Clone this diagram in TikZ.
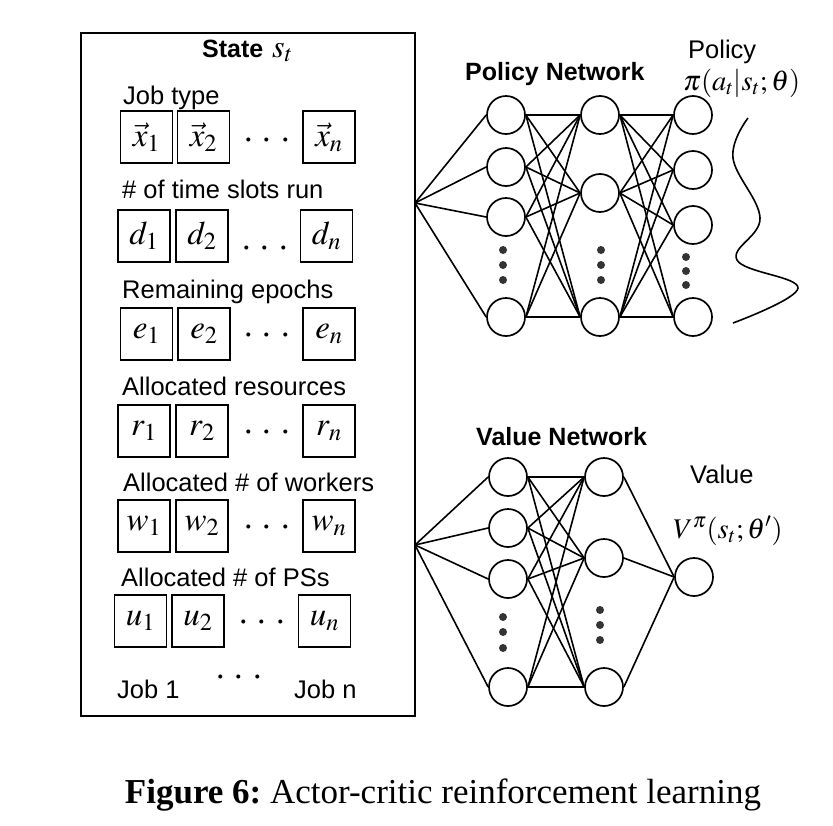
\documentclass[tikz,border=0pt]{standalone}
\usepackage{mathptmx}
\usepackage[no-math]{fontspec}
\setmainfont{Liberation Serif}
\setsansfont{Liberation Sans}
\begin{document}
\begin{tikzpicture}[x=1pt,y=-1pt,
  lbl/.style={font=\sffamily\fontsize{25.5}{30}\selectfont, anchor=base west, inner sep=0},
  ttl/.style={font=\sffamily\bfseries\fontsize{25}{30}\selectfont, anchor=base west, inner sep=0},
  mth/.style={font=\fontsize{28.5}{32}\selectfont, anchor=base west, inner sep=0},
  cell/.style={draw, line width=1.7pt, minimum width=52pt, minimum height=52pt, inner sep=0, font=\fontsize{33}{36}\selectfont},
  dotsrow/.style={font=\fontsize{38}{40}\selectfont, anchor=base, inner sep=0},
  neuron/.style={circle, draw, line width=1.7pt, minimum size=38pt, inner sep=0},
  edge/.style={line width=1.6pt},
  ndot/.style={circle, fill=black!80, minimum size=8pt, inner sep=0},
  statebox/.style={draw, line width=1.9pt, minimum width=334pt, minimum height=683pt, inner sep=0}
]
\useasboundingbox (0,0) rectangle (833,825);
\newcommand{\mydots}{$\cdot$\hspace{8pt}$\cdot$\hspace{8pt}$\cdot$}

% State box
\node[statebox] (state) at (248,374.5) {};
\node[ttl] (stt) at (202,57) {State};
\node[mth, font=\fontsize{32}{36}\selectfont] (sst) at (272,57) {$s_t$};

% Row 1
\node[lbl] (l1) at (123,104) {Job type};
\node[cell] (a1) at (146.5,137) {$\vec{x}_1$};
\node[cell] (a2) at (203.5,137) {$\vec{x}_2$};
\node[dotsrow] (ad) at (267,149) {\mydots};
\node[cell] (an) at (329,137) {$\vec{x}_n$};
% Row 2
\node[lbl] (l2) at (122,198) {\# of time slots run};
\node[cell] (b1) at (144,236) {$d_1$};
\node[cell] (b2) at (202,236) {$d_2$};
\node[dotsrow] (bd) at (265,257) {\mydots};
\node[cell] (bn) at (326.5,236) {$d_n$};
% Row 3
\node[lbl] (l3) at (122,298) {Remaining epochs};
\node[cell] (c1) at (146.5,334) {$e_1$};
\node[cell] (c2) at (204,334) {$e_2$};
\node[dotsrow] (cd) at (267,344) {\mydots};
\node[cell] (cn) at (329,334) {$e_n$};
% Row 4
\node[lbl] (l4) at (122,395) {Allocated resources};
\node[cell] (d1) at (144,431) {$r_1$};
\node[cell] (d2) at (202,431) {$r_2$};
\node[dotsrow] (dd) at (267,441) {\mydots};
\node[cell] (dn) at (329,431) {$r_n$};
% Row 5
\node[lbl] (l5) at (123,491) {Allocated \# of workers};
\node[cell] (e1) at (144,526) {$w_1$};
\node[cell] (e2) at (202,526) {$w_2$};
\node[dotsrow] (ed) at (267,536) {\mydots};
\node[cell] (en) at (329,526) {$w_n$};
% Row 6
\node[lbl] (l6) at (121,586) {Allocated \# of PSs};
\node[cell] (f1) at (140.5,621) {$u_1$};
\node[cell] (f2) at (198,621) {$u_2$};
\node[dotsrow] (fd) at (262,631) {\mydots};
\node[cell] (fn) at (324.5,621) {$u_n$};
% bottom
\node[dotsrow] (gd) at (239,686) {\mydots};
\node[lbl] (j1) at (117,698) {Job 1};
\node[lbl] (jn) at (294,698) {Job n};

% Policy network
\node[ttl] (pnt) at (465,80) {Policy Network};
\node[lbl] (pol) at (688,58) {Policy};
\node[mth] (pif) at (683,90) {$\pi(a_t|s_t;\theta)$};
\coordinate (pin) at (415,203);
\node[neuron] (p11) at (506,115) {};
\node[neuron] (p12) at (506,167) {};
\node[neuron] (p13) at (506,217) {};
\node[neuron] (p14) at (506,317) {};
\node[neuron] (p21) at (600,115) {};
\node[neuron] (p22) at (600,193) {};
\node[neuron] (p23) at (600,317) {};
\node[neuron] (p31) at (693,115) {};
\node[neuron] (p32) at (693,170) {};
\node[neuron] (p33) at (693,225) {};
\node[neuron] (p34) at (693,317) {};
\foreach \i in {1,...,4} \draw[edge] (pin) -- (p1\i.west);
\foreach \i in {1,...,4} \foreach \j in {1,2,3} \draw[edge] (p1\i.east) -- (p2\j.west);
\foreach \j in {1,2,3} \foreach \k in {1,...,4} \draw[edge] (p2\j.east) -- (p3\k.west);
\foreach \y [count=\n] in {250,265,280} \node[ndot] (pda\n) at (503,\y) {};
\foreach \y [count=\n] in {250,265,280} \node[ndot] (pdb\n) at (601,\y) {};
\foreach \y [count=\n] in {257,271,285} \node[ndot] (pdc\n) at (686,\y) {};
\draw[line width=1.6pt] plot[smooth, tension=0.65] coordinates {(748,118) (733,158) (760,218) (737,260) (798,288) (733,323)};

% Value network
\node[ttl] (vnt) at (476,445) {Value Network};
\node[lbl] (val) at (690,483) {Value};
\node[mth] (vf) at (673,538) {$V^{\pi}(s_t;\theta')$};
\coordinate (vin) at (415,545);
\node[neuron] (v11) at (508,477) {};
\node[neuron] (v12) at (508,528) {};
\node[neuron] (v13) at (508,579) {};
\node[neuron] (v14) at (508,687) {};
\node[neuron] (v21) at (604,477) {};
\node[neuron] (v22) at (604,558) {};
\node[neuron] (v23) at (604,687) {};
\node[neuron] (vo) at (694,577) {};
\foreach \i in {1,...,4} \draw[edge] (vin) -- (v1\i.west);
\foreach \i in {1,...,4} \foreach \j in {1,2,3} \draw[edge] (v1\i.east) -- (v2\j.west);
\foreach \j in {1,2,3} \draw[edge] (v2\j.east) -- (vo.west);
\foreach \y [count=\n] in {617,632,648} \node[ndot] (vda\n) at (503,\y) {};
\foreach \y [count=\n] in {610,625,640} \node[ndot] (vdb\n) at (600,\y) {};

% Caption
\node[font=\fontsize{35}{40}\selectfont, anchor=base, inner sep=0] (cap) at (443,803) {\textbf{Figure 6:}\hspace{0.25em}Actor-critic reinforcement learning};
\end{tikzpicture}
\end{document}
